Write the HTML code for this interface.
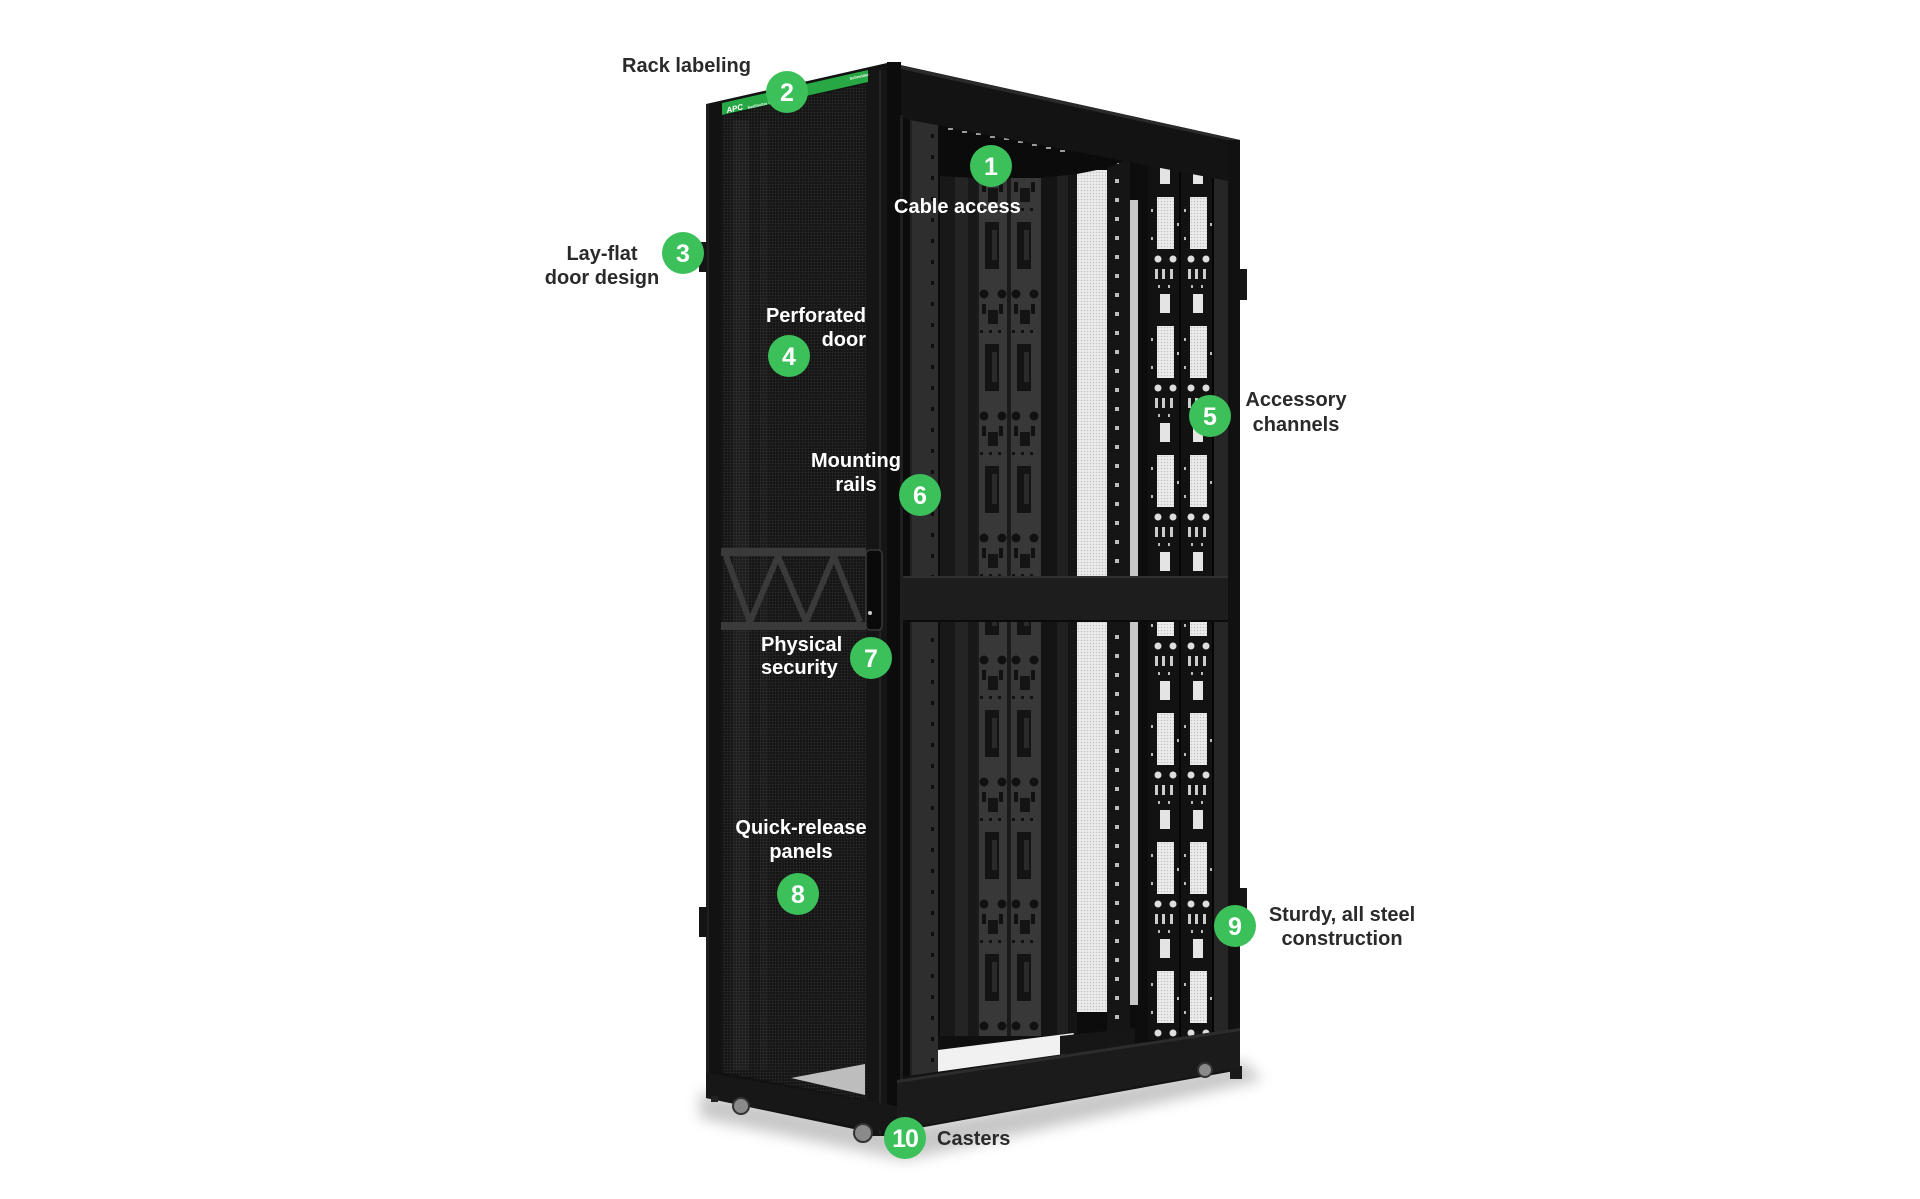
<!DOCTYPE html>
<html><head><meta charset="utf-8"><style>
html,body{margin:0;padding:0;background:#fff;}
svg{display:block;}
text{font-family:"Liberation Sans",Arial,sans-serif;font-weight:bold;}
</style></head><body>
<svg width="1920" height="1199" viewBox="0 0 1920 1199" xmlns="http://www.w3.org/2000/svg">
<defs>
<pattern id="mesh" width="3" height="3" patternUnits="userSpaceOnUse"><rect width="3" height="3" fill="#151515"/><circle cx="1.5" cy="1.5" r="0.9" fill="#2c2c2c"/></pattern>
<pattern id="wmesh" width="3" height="3" patternUnits="userSpaceOnUse"><rect width="3" height="3" fill="#ececec"/><circle cx="1.5" cy="1.5" r="0.8" fill="#c2c2c2"/></pattern>
<pattern id="rail" width="28" height="21" patternUnits="userSpaceOnUse" patternTransform="translate(910,0)"><rect width="28" height="21" fill="#2e2e2e"/><rect x="21" y="8" width="3" height="4" fill="#0e0e0e"/><rect x="0" y="0" width="2" height="21" fill="#222"/></pattern>
<pattern id="bar" width="23" height="19" patternUnits="userSpaceOnUse" patternTransform="translate(1107,0)"><rect width="23" height="19" fill="#151515"/><rect x="8" y="8" width="4" height="4" fill="#bdbdbd"/></pattern>
<pattern id="pdu" width="32" height="122" patternUnits="userSpaceOnUse" patternTransform="translate(977,222)"><rect width="32" height="122" fill="#383838"/><rect x="8" y="0" width="14" height="47" fill="#141414"/><rect x="15" y="8" width="5" height="30" fill="#2a2a2a"/><circle cx="7" cy="72" r="4.5" fill="#111"/><circle cx="25" cy="72" r="4.5" fill="#111"/><rect x="5" y="82" width="4" height="10" fill="#111"/><rect x="22" y="82" width="4" height="10" fill="#111"/><rect x="11" y="88" width="10" height="14" fill="#141414"/><rect x="3" y="108" width="3" height="3" fill="#111"/><rect x="12" y="108" width="3" height="3" fill="#111"/><rect x="21" y="108" width="3" height="3" fill="#111"/><rect x="0" y="0" width="2" height="122" fill="#1c1c1c"/></pattern>
<pattern id="chan" width="33" height="129" patternUnits="userSpaceOnUse" patternTransform="translate(1148,197)"><rect width="33" height="129" fill="#121212"/><rect x="9" y="0" width="17" height="52" fill="url(#wmesh)"/><rect x="12" y="97" width="10" height="19" fill="#e4e4e4"/><circle cx="10" cy="62" r="3.5" fill="#ddd"/><circle cx="25" cy="62" r="3.5" fill="#ddd"/><rect x="7" y="72" width="3" height="10" fill="#ccc"/><rect x="14" y="72" width="3" height="10" fill="#ccc"/><rect x="22" y="72" width="3" height="10" fill="#ccc"/><rect x="3" y="12" width="2" height="3" fill="#bbb"/><rect x="3" y="40" width="2" height="3" fill="#bbb"/><rect x="29" y="26" width="2" height="3" fill="#bbb"/><rect x="10" y="88" width="2" height="3" fill="#bbb"/><rect x="20" y="88" width="2" height="3" fill="#bbb"/><rect x="31" y="0" width="2" height="129" fill="#050505"/></pattern>
<clipPath id="open"><polygon points="900,118 1228,181 1228,1031 900,1077"/></clipPath>
<filter id="bl" x="-20%" y="-100%" width="140%" height="300%"><feGaussianBlur stdDeviation="7"/></filter>
</defs>

<rect width="1920" height="1199" fill="#fff"/>

<!-- floor shadow -->
<polygon points="700,1092 900,1128 1245,1062 1262,1080 905,1160 700,1118" fill="#9a9a9a" opacity="0.55" filter="url(#bl)"/>

<!-- right main body -->
<polygon points="887,62 1240,140 1240,1070 897,1132" fill="#131313"/>
<polygon points="887,62 1240,140 1240,143 887,66" fill="#2a2a2a"/>

<!-- interior -->
<g clip-path="url(#open)">
  <rect x="890" y="100" width="360" height="1000" fill="#0c0c0c"/>
  <rect x="910" y="100" width="28" height="1000" fill="url(#rail)"/>
  <rect x="940" y="100" width="37" height="1000" fill="#181818"/>
  <rect x="955" y="100" width="13" height="1000" fill="#242424"/>
  <rect x="977" y="100" width="64" height="1000" fill="url(#pdu)"/>
  <rect x="1007" y="100" width="3" height="1000" fill="#1a1a1a"/>
  <rect x="1041" y="100" width="36" height="1000" fill="#141414"/>
  <rect x="1057" y="100" width="11" height="1000" fill="#202020"/>
  <rect x="1077" y="170" width="30" height="410" fill="url(#wmesh)"/>
  <rect x="1077" y="620" width="30" height="392" fill="url(#wmesh)"/>
  <rect x="1107" y="100" width="23" height="1000" fill="url(#bar)"/>
  <rect x="1130" y="200" width="8" height="380" fill="#c6c6c6"/>
  <rect x="1130" y="620" width="8" height="385" fill="#c6c6c6"/>
  <rect x="1138" y="100" width="10" height="1000" fill="#0d0d0d"/>
  <rect x="1148" y="160" width="66" height="880" fill="url(#chan)"/>
  <rect x="1214" y="100" width="14" height="1000" fill="#262626"/>
  <!-- top cavity -->
  <polygon points="938,100 1228,100 1228,168 1148,160 1130,158 1107,168 1077,174 1040,178 977,178 938,176" fill="#0b0b0b"/>
  <g fill="#9a9a9a">
    <rect x="948" y="128" width="5" height="2"/><rect x="962" y="131" width="5" height="2"/><rect x="976" y="133" width="5" height="2"/><rect x="990" y="136" width="5" height="2"/><rect x="1004" y="138" width="5" height="2"/><rect x="1018" y="141" width="5" height="2"/><rect x="1032" y="144" width="5" height="2"/><rect x="1046" y="147" width="5" height="2"/><rect x="1060" y="150" width="5" height="2"/>
  </g>
  <!-- bottom floor -->
  <rect x="938" y="1036" width="140" height="60" fill="#0f0f0f"/>
  <polygon points="938,1050 1074,1033 1062,1062 938,1074" fill="#f1f1f1"/>
  <polygon points="1060,1036 1135,1028 1135,1045 1060,1055" fill="#161616"/>
</g>

<!-- middle beam -->
<rect x="900" y="576" width="332" height="46" fill="#1d1d1d"/>
<rect x="900" y="576" width="332" height="2" fill="#303030"/>
<rect x="900" y="620" width="332" height="2" fill="#0b0b0b"/>

<!-- right post -->
<rect x="1228" y="140" width="12" height="930" fill="#111"/>
<rect x="1240" y="269" width="7" height="31" fill="#161616"/>
<rect x="1240" y="888" width="7" height="43" fill="#161616"/>
<rect x="1230" y="1066" width="12" height="13" fill="#1a1a1a"/>

<!-- front post -->
<rect x="887" y="62" width="14" height="1072" fill="#0c0c0c"/>
<rect x="900" y="115" width="3" height="965" fill="#1e1e1e"/>

<!-- base -->
<polygon points="897,1080 1240,1028 1240,1068 897,1130" fill="#1b1b1b"/>
<polygon points="897,1080 1240,1028 1240,1031 897,1083" fill="#2c2c2c"/>
<circle cx="1205" cy="1070" r="7" fill="#8a8a8a" stroke="#333" stroke-width="2"/>

<!-- door -->
<polygon points="706,104 887,63 887,1136 706,1098" fill="#121212"/>
<polygon points="722,116 866,84 866,1100 722,1072" fill="url(#mesh)"/>
<rect x="733" y="120" width="16" height="950" fill="#ffffff" opacity="0.035"/>
<rect x="760" y="120" width="8" height="950" fill="#ffffff" opacity="0.025"/>
<polygon points="791,1078 865,1064 865,1095" fill="#bdbdbd"/>
<rect x="866" y="70" width="21" height="1066" fill="#151515"/>
<rect x="879" y="70" width="2" height="1064" fill="#242424"/>
<rect x="706" y="104" width="3" height="994" fill="#1e1e1e"/>
<!-- green label band -->
<polygon points="722,103 868,70 868,82 722,115" fill="#27a844"/>
<text x="0" y="0" font-size="8" fill="#fff" font-style="italic" transform="translate(727,113) rotate(-12.7)">APC</text>
<text x="0" y="0" font-size="4" fill="#dff5e4" transform="translate(748,109) rotate(-12.7)">NetShelter SX</text>
<text x="0" y="0" font-size="4" fill="#fff" transform="translate(850,80) rotate(-12.7)">Schneider</text>
<!-- truss -->
<rect x="721" y="548" width="145" height="8" fill="#3a3a3a"/>
<rect x="721" y="622" width="145" height="8" fill="#3a3a3a"/>
<polyline points="726,556 750,622 778,556 806,622 834,556 860,622" fill="none" stroke="#3a3a3a" stroke-width="6"/>
<!-- handle -->
<rect x="866" y="550" width="16" height="80" rx="4" fill="#0a0a0a" stroke="#383838" stroke-width="1.5"/>
<circle cx="870" cy="613" r="2" fill="#ccc"/>
<!-- door hinges -->
<rect x="699" y="242" width="8" height="30" fill="#141414"/>
<rect x="699" y="907" width="8" height="30" fill="#141414"/>
<!-- door bottom -->
<polygon points="706,1073 897,1106 897,1134 706,1098" fill="#171717"/>
<circle cx="741" cy="1106" r="8" fill="#8a8a8a" stroke="#333" stroke-width="2"/>
<circle cx="863" cy="1133" r="9" fill="#8a8a8a" stroke="#333" stroke-width="2"/>
<rect x="711" y="1096" width="7" height="6" fill="#222"/>

<!-- labels dark -->
<g fill="#2a2a2a" font-size="20">
  <text x="622" y="72">Rack labeling</text>
  <text x="602" y="260" text-anchor="middle">Lay-flat</text>
  <text x="602" y="284" text-anchor="middle">door design</text>
  <text x="1296" y="406" text-anchor="middle">Accessory</text>
  <text x="1296" y="431" text-anchor="middle">channels</text>
  <text x="1342" y="921" text-anchor="middle">Sturdy, all steel</text>
  <text x="1342" y="945" text-anchor="middle">construction</text>
  <text x="937" y="1145">Casters</text>
</g>
<!-- labels white -->
<g fill="#ffffff" font-size="20">
  <text x="894" y="213">Cable access</text>
  <text x="866" y="322" text-anchor="end">Perforated</text>
  <text x="866" y="346" text-anchor="end">door</text>
  <text x="856" y="467" text-anchor="middle">Mounting</text>
  <text x="856" y="491" text-anchor="middle">rails</text>
  <text x="761" y="651">Physical</text>
  <text x="761" y="674">security</text>
  <text x="801" y="834" text-anchor="middle">Quick-release</text>
  <text x="801" y="858" text-anchor="middle">panels</text>
</g>

<!-- number circles -->
<g fill="#3cc15a">
  <circle cx="991" cy="166" r="21"/>
  <circle cx="787" cy="92" r="21"/>
  <circle cx="683" cy="253" r="21"/>
  <circle cx="789" cy="356" r="21"/>
  <circle cx="1210" cy="416" r="21"/>
  <circle cx="920" cy="495" r="21"/>
  <circle cx="871" cy="658" r="21"/>
  <circle cx="798" cy="894" r="21"/>
  <circle cx="1235" cy="926" r="21"/>
  <circle cx="905" cy="1138" r="21"/>
</g>
<g fill="#ffffff" font-size="25" text-anchor="middle">
  <text x="991" y="175">1</text>
  <text x="787" y="101">2</text>
  <text x="683" y="262">3</text>
  <text x="789" y="365">4</text>
  <text x="1210" y="425">5</text>
  <text x="920" y="504">6</text>
  <text x="871" y="667">7</text>
  <text x="798" y="903">8</text>
  <text x="1235" y="935">9</text>
  <text x="905" y="1147" letter-spacing="-1">10</text>
</g>
</svg>
</body></html>
